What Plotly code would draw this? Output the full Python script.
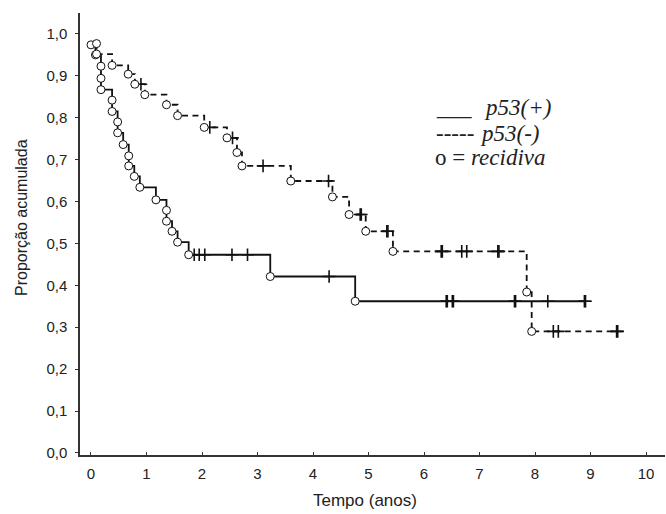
import plotly.graph_objects as go

# ---- data (Kaplan-Meier curves) ----
# p53(+) : solid curve
pos_event_t = [0.00, 0.08, 0.18, 0.18, 0.18, 0.38, 0.38, 0.48, 0.48, 0.58, 0.68, 0.68,
               0.78, 0.88, 1.17, 1.36, 1.36, 1.46, 1.56, 1.76, 3.23, 4.76]
pos_event_s = [0.974, 0.950, 0.923, 0.894, 0.867, 0.842, 0.815, 0.790, 0.764, 0.736, 0.709, 0.685,
               0.660, 0.634, 0.604, 0.579, 0.553, 0.529, 0.503, 0.473, 0.421, 0.362]
pos_censor_t = [1.86, 1.95, 2.05, 2.54, 2.82, 4.29, 6.40, 6.42, 6.51, 6.53, 7.63, 7.65,
                8.23, 8.89, 8.91]

# p53(-) : dashed curve
neg_event_t = [0.10, 0.10, 0.38, 0.67, 0.79, 0.97, 1.36, 1.56, 2.04, 2.45, 2.63, 2.72,
               3.60, 4.35, 4.65, 4.95, 5.44, 7.85, 7.94]
neg_event_s = [0.977, 0.952, 0.925, 0.904, 0.880, 0.855, 0.831, 0.805, 0.777, 0.752, 0.717, 0.685,
               0.649, 0.611, 0.569, 0.529, 0.481, 0.384, 0.290]
neg_censor_t = [0.90, 2.14, 2.55, 3.10, 4.28, 4.85, 4.87, 5.33, 5.35, 6.31, 6.33, 6.68, 6.77,
                7.33, 7.35, 8.33, 8.42, 9.47, 9.49]

x_ticks = list(range(0, 11))
y_ticks = [round(0.1 * i, 1) for i in range(11)]


def surv_at(et, es, c):
    s = 1.0
    for t, v in zip(et, es):
        if t <= c:
            s = v
    return s


W, H = 666, 514
L, R, T, B = 80, 1, 13, 59


def px(xp):
    return (xp - L) / (W - L - R)


def py(yp):
    return (H - B - yp) / (H - T - B)


fig = go.Figure()

for et, es, ct, dash in [(pos_event_t, pos_event_s, pos_censor_t, "solid"),
                         (neg_event_t, neg_event_s, neg_censor_t, "6px,4.5px")]:
    end = max(ct + et)
    xs = list(et) + [end]
    ys = list(es) + [es[-1]]
    fig.add_trace(go.Scatter(x=xs, y=ys, mode="lines", line_shape="hv",
                             line=dict(color="#111", width=1.8, dash=dash),
                             hoverinfo="skip", showlegend=False))
    cs = [surv_at(et, es, c) for c in ct]
    fig.add_trace(go.Scatter(x=ct, y=cs, mode="markers",
                             marker=dict(symbol="cross-thin", size=9,
                                         line=dict(color="#111", width=1.6)),
                             showlegend=False))

for et, es in [(pos_event_t, pos_event_s), (neg_event_t, neg_event_s)]:
    fig.add_trace(go.Scatter(x=et, y=es, mode="markers",
                             marker=dict(symbol="circle", size=8, color="white",
                                         line=dict(color="#111", width=1)),
                             showlegend=False))

serif = "Liberation Serif, Times New Roman, serif"
sans = "Liberation Sans, Arial, sans-serif"
ann = [
    dict(x=px(434), y=py(107), text="___", font=dict(family=serif, size=23)),
    dict(x=px(482), y=py(107), text="<i>p53(+)</i>", font=dict(family=serif, size=23)),
    dict(x=px(434), y=py(133), text="-----", font=dict(family=serif, size=23)),
    dict(x=px(478), y=py(133), text="<i>p53(-)</i>", font=dict(family=serif, size=23)),
    dict(x=px(433), y=py(158), text="o = <i>recidiva</i>", font=dict(family=serif, size=23)),
    dict(x=px(21), y=py(218), text="Proporção acumulada", textangle=-90, xanchor="center",
         font=dict(family=sans, size=16)),
    dict(x=px(365), y=py(500), text="Tempo (anos)", xanchor="center",
         font=dict(family=sans, size=17)),
]
for a in ann:
    a.setdefault("xanchor", "left")
    a.update(xref="paper", yref="paper", yanchor="middle", showarrow=False)
    a["font"]["color"] = "#222"

fig.update_layout(
    width=W, height=H, autosize=False,
    margin=dict(l=L, r=R, t=T, b=B),
    paper_bgcolor="white", plot_bgcolor="white",
    separators=",.",
    annotations=ann,
    xaxis=dict(range=[-0.198, 10.342], tickvals=x_ticks, ticks="inside", ticklen=3,
               tickcolor="#333", showline=True, linecolor="#333", linewidth=1.5,
               showgrid=False, zeroline=False, tickfont=dict(family=sans, size=15, color="#222"),
               ticklabelstandoff=4),
    yaxis=dict(range=[-0.005, 1.05], tickvals=y_ticks, tickformat=".1f", ticks="outside",
               ticklen=3, tickcolor="#333", showline=True, linecolor="#333", linewidth=1.5,
               showgrid=False, zeroline=False, tickfont=dict(family=sans, size=15, color="#222"),
               ticklabelstandoff=5),
)

fig.write_html("out.html", config={"displayModeBar": False},
               post_script="document.body.style.margin='0';document.body.style.padding='0';")
